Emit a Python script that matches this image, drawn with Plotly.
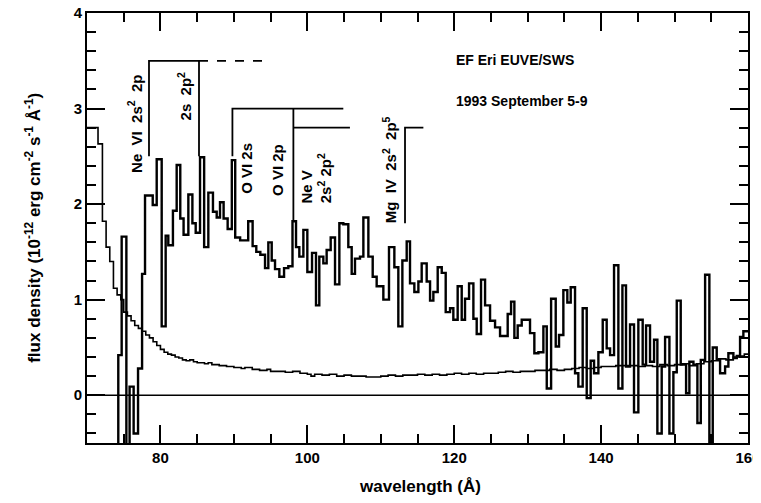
import plotly.graph_objects as go

# ---- observed spectrum (step edges in Angstrom, flux values) ----
spec_edges = [70.0, 74.26, 74.72, 75.36, 75.80, 76.35, 76.95, 77.50, 77.90, 78.95,
              79.49, 80.17, 80.71, 81.07, 81.70, 82.21, 82.70, 83.15, 83.80, 84.35,
              84.80, 85.39, 85.95, 86.52, 87.15, 87.66, 88.11, 88.60, 89.15, 89.72,
              90.18, 90.85, 91.95, 92.55, 93.05, 93.60, 94.24, 94.69, 95.15, 95.60,
              96.19, 96.83, 97.41, 97.98, 98.46, 98.91, 99.46, 100.00, 100.64, 101.18,
              101.63, 102.18, 102.63, 103.18, 103.77, 104.36, 104.90, 105.58, 106.04, 106.49,
              107.17, 107.63, 108.31, 108.90, 109.44, 110.35, 111.12, 111.85, 112.39, 112.94,
              113.53, 113.98, 114.57, 115.12, 115.57, 116.25, 116.71, 117.16, 117.75, 118.30,
              118.84, 119.43, 119.88, 120.47, 121.02, 121.47, 122.02, 122.61, 123.06, 123.65,
              124.20, 124.88, 125.56, 126.24, 127.28, 127.74, 128.19, 128.64, 129.19, 130.32,
              130.91, 131.46, 132.14, 132.60, 133.19, 133.82, 134.27, 134.86, 135.40, 135.86,
              136.45, 136.90, 137.49, 138.04, 138.58, 139.04, 139.63, 140.22, 140.76, 141.22,
              141.76, 142.35, 142.90, 143.39, 143.94, 144.48, 145.07, 145.66, 146.12, 146.66,
              147.21, 147.66, 148.25, 148.71, 149.30, 149.84, 150.30, 150.84, 151.57, 152.02,
              152.57, 153.11, 153.57, 154.16, 154.74, 155.20, 155.74, 156.20, 156.88, 157.33,
              158.01, 158.47, 158.92, 159.37, 160.0]
spec_flux = [-1.0, 0.42, 1.66, -0.9, 0.09, -0.40, 0.28, 1.27, 2.09, 1.99,
             2.47, 0.72, 1.67, 1.57, 1.93, 2.41, 1.85, 1.68, 2.10, 1.80,
             1.70, 2.49, 1.55, 2.12, 1.92, 1.86, 2.02, 1.85, 1.74, 2.46,
             1.65, 1.62, 1.82, 1.56, 1.50, 1.47, 1.33, 1.60, 1.41, 1.32,
             1.24, 1.33, 1.35, 1.82, 1.55, 1.45, 1.73, 1.29, 1.49, 0.94,
             1.45, 1.38, 1.52, 1.65, 1.16, 1.80, 1.79, 1.55, 1.27, 1.43,
             1.45, 1.86, 1.45, 1.24, 1.14, 1.00, 1.55, 1.34, 0.72, 1.41,
             1.61, 1.17, 1.08, 1.19, 1.38, 1.19, 0.99, 1.08, 1.34, 1.28,
             0.87, 0.91, 0.79, 1.14, 0.79, 1.01, 1.17, 0.80, 0.64, 1.21,
             0.94, 0.78, 0.71, 0.62, 0.85, 0.98, 0.60, 0.73, 0.79, 0.65,
             0.44, 0.45, 0.72, 0.07, 1.01, 0.51, 0.63, 1.10, 0.97, 1.13,
             0.23, 0.09, 0.91, -0.03, 0.36, 0.23, 0.45, 0.79, 0.49, 0.42,
             1.36, 0.07, 1.15, 0.30, 0.74, -0.18, 0.79, 0.32, 0.73, 0.35,
             0.58, -0.40, 0.30, 0.61, -0.40, 0.24, 0.99, 0.32, 0.02, 0.35,
             0.32, -0.29, 0.37, 1.26, -0.9, 0.50, 0.37, 0.23, 0.30, 0.44,
             0.39, 0.41, 0.61, 0.67, 0.67]

# ---- 1-sigma error curve ----
sig_edges = [70.0, 71.5, 72.1, 72.6, 73.1, 73.6, 74.1, 74.6, 75.0, 75.5,
             76.0, 76.5, 77.0, 77.5, 78.0, 78.5, 79.0, 79.5, 80.0, 80.5,
             81.0, 81.5, 82.0, 82.5, 83.0, 83.5, 84.0, 84.5, 85.0, 86.0,
             86.5, 87.0, 88.0, 89.0, 90.0, 91.0, 91.5, 92.5, 93.5, 94.5,
             95.0, 96.0, 97.0, 98.0, 99.0, 100.0, 100.5, 101.0, 102.0, 103.0,
             104.0, 105.0, 106.0, 107.0, 108.0, 110.0, 111.0, 112.0, 113.0, 114.0,
             115.0, 116.0, 117.0, 118.0, 119.0, 120.0, 121.0, 122.0, 123.0, 124.0,
             125.0, 126.0, 127.0, 128.0, 129.0, 130.0, 131.0, 132.0, 133.0, 134.0,
             135.0, 136.0, 137.0, 138.0, 139.0, 140.0, 142.0, 144.0, 145.0, 146.0,
             147.0, 148.0, 149.0, 150.0, 151.0, 152.0, 153.0, 154.0, 155.0, 156.0,
             157.0, 158.0, 159.0, 159.5, 160.0]
sig_flux = [2.80, 2.63, 1.82, 1.55, 1.40, 1.12, 1.05, 1.00, 0.87, 0.83,
            0.78, 0.73, 0.70, 0.67, 0.63, 0.60, 0.56, 0.52, 0.48, 0.45,
            0.43, 0.42, 0.40, 0.39, 0.37, 0.36, 0.37, 0.35, 0.34, 0.33,
            0.34, 0.32, 0.31, 0.30, 0.29, 0.28, 0.29, 0.27, 0.26, 0.27,
            0.25, 0.25, 0.24, 0.25, 0.23, 0.22, 0.20, 0.22, 0.21, 0.22,
            0.20, 0.21, 0.20, 0.20, 0.19, 0.20, 0.21, 0.20, 0.21, 0.21,
            0.22, 0.21, 0.22, 0.21, 0.22, 0.23, 0.22, 0.23, 0.22, 0.23,
            0.23, 0.24, 0.25, 0.24, 0.25, 0.25, 0.26, 0.26, 0.27, 0.26,
            0.27, 0.28, 0.29, 0.28, 0.29, 0.30, 0.31, 0.31, 0.30, 0.31,
            0.30, 0.32, 0.31, 0.32, 0.33, 0.31, 0.33, 0.35, 0.36, 0.38,
            0.37, 0.40, 0.41, 0.43, 0.43]

# ---- line identifications ----
nevi_x = [78.44, 78.44, 85.25, 85.25]
nevi_y = [2.50, 3.50, 3.50, 2.50]
nevi_dash_x = [85.25, 94.9]
nevi_dash_y = [3.50, 3.50]
ovi_x = [89.8, 89.8, 104.9]
ovi_y = [2.50, 3.00, 3.00]
ovi2p_x = [98.1, 98.1]
ovi2p_y = [3.00, 1.83]
nev_x = [98.1, 105.8]
nev_y = [2.80, 2.80]
mgiv_x = [115.8, 113.3, 113.3]
mgiv_y = [2.80, 2.80, 1.80]

x_ticks = [80, 100, 120, 140, 160]
y_ticks = [0, 1, 2, 3, 4]

FONT = "Liberation Sans, Arial, sans-serif"
SP = "\u00a0"

fig = go.Figure()
fig.add_trace(go.Scatter(x=sig_edges, y=sig_flux, mode="lines", line_shape="hv",
                         line=dict(color="black", width=1.6), hoverinfo="skip"))
fig.add_trace(go.Scatter(x=spec_edges, y=spec_flux, mode="lines", line_shape="hv",
                         line=dict(color="black", width=2.4), hoverinfo="skip"))
fig.add_trace(go.Scatter(x=[70, 160], y=[0, 0], mode="lines",
                         line=dict(color="black", width=1.5), hoverinfo="skip"))
for xs, ys, dash in [(nevi_x, nevi_y, "solid"), (nevi_dash_x, nevi_dash_y, "dash"),
                     (ovi_x, ovi_y, "solid"), (ovi2p_x, ovi2p_y, "solid"),
                     (nev_x, nev_y, "solid"), (mgiv_x, mgiv_y, "solid")]:
    fig.add_trace(go.Scatter(x=xs, y=ys, mode="lines",
                             line=dict(color="black", width=1.8, dash=dash),
                             hoverinfo="skip"))

lab_font = dict(family=FONT, size=15, color="black", weight="bold")
labels = [
    ("Ne" + SP * 2 + "VI" + SP * 2 + "2s<sup>2</sup>" + SP * 2 + "2p", 76.55, 2.84, "middle"),
    ("2s" + SP * 2 + "2p<sup>2</sup>", 83.25, 3.13, "middle"),
    ("O VI 2s", 91.8, 2.37, "middle"),
    ("O VI 2p", 95.9, 2.36, "middle"),
    ("Ne V", 99.95, 1.99, "bottom"),
    ("2s<sup>2</sup>" + SP + "2p<sup>2</sup>", 102.3, 1.99, "bottom"),
    ("Mg" + SP * 2 + "IV" + SP * 2 + "2s<sup>2</sup>" + SP * 2 + "2p<sup>5</sup>", 111.2, 2.36, "middle"),
]
for txt, x, y, ya in labels:
    fig.add_annotation(x=x, y=y, text=txt, textangle=-90, showarrow=False,
                       xanchor="center", yanchor=ya, font=lab_font)

txt_font = dict(family=FONT, size=14, color="black", weight="bold")
fig.add_annotation(x=120.0, y=3.51, text="EF Eri EUVE/SWS", showarrow=False,
                   xanchor="left", yanchor="middle", font=txt_font)
fig.add_annotation(x=120.0, y=3.08, text="1993 September 5-9", showarrow=False,
                   xanchor="left", yanchor="middle", font=txt_font)

tick_font = dict(family=FONT, size=15, color="black", weight="bold")
title_font = dict(family=FONT, size=17, color="black", weight="bold")
# axis titles placed as paper annotations
fig.add_annotation(xref="paper", yref="paper", x=0.504, y=-0.102,
                   text="wavelength (Å)", showarrow=False,
                   xanchor="center", yanchor="middle", font=title_font)
fig.add_annotation(xref="paper", yref="paper", x=-0.082, y=0.5, textangle=-90,
                   text="flux density (10<sup>-12</sup> erg cm<sup>-2</sup> s<sup>-1</sup> Å<sup>-1</sup>)",
                   showarrow=False, xanchor="center", yanchor="middle", font=title_font)

fig.update_xaxes(range=[70, 160], tickvals=x_ticks, ticks="inside", ticklen=18,
                 tickwidth=1.5, tickcolor="black", showline=True, linecolor="black",
                 linewidth=2, mirror="ticks", showgrid=False, zeroline=False,
                 tickfont=tick_font, automargin=False, ticklabeloverflow="allow",
                 minor=dict(dtick=5, tick0=70, ticks="inside", ticklen=9,
                            tickwidth=1.5, tickcolor="black", showgrid=False))
fig.update_yaxes(range=[-0.5, 4], tickvals=y_ticks, ticks="inside", ticklen=18,
                 tickwidth=1.5, tickcolor="black", showline=True, linecolor="black",
                 linewidth=2, mirror="ticks", showgrid=False, zeroline=False,
                 tickfont=tick_font, automargin=False, ticklabeloverflow="allow",
                 minor=dict(dtick=0.2, tick0=0, ticks="inside", ticklen=9,
                            tickwidth=1.5, tickcolor="black", showgrid=False))
# page body has an 8px margin: figure sized to fit inside the window without scrolling
fig.update_layout(width=753, height=487, showlegend=False,
                  margin=dict(l=79, r=13, t=5, b=52, autoexpand=False),
                  plot_bgcolor="white", paper_bgcolor="white")
fig.write_html("out.html")
